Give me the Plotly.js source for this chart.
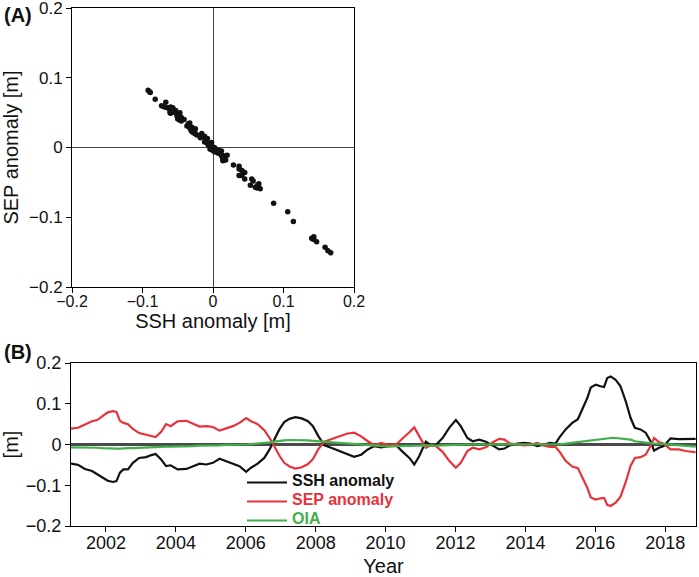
<!DOCTYPE html>
<html>
<head>
<meta charset="utf-8">
<script src="https://cdn.plot.ly/plotly-3.0.1.min.js"></script>
<style>html,body{margin:0;padding:0;background:#fff;}#chart{width:699px;height:577px;}</style>
</head>
<body>
<div id="chart"></div>
<script>
// Time axis (decimal years)
var years = [2001.00,2001.20,2001.40,2001.60,2001.75,2001.90,2002.05,2002.20,2002.30,2002.40,2002.50,2002.63,2002.77,2002.95,2003.15,2003.30,2003.42,2003.58,2003.72,2003.85,
2004.05,2004.30,2004.49,2004.68,2004.87,2005.06,2005.25,2005.44,2005.63,2005.82,2006.01,2006.15,2006.34,2006.53,2006.68,2006.82,2006.96,
2007.10,2007.25,2007.42,2007.60,2007.78,2007.92,2008.08,2008.25,2008.44,2008.68,2008.91,2009.10,2009.30,2009.49,2009.68,2009.87,
2010.10,2010.30,2010.49,2010.68,2010.82,2010.96,2011.15,2011.30,2011.44,2011.63,2011.82,2012.01,2012.15,2012.34,2012.49,2012.68,2012.87,
2013.08,2013.25,2013.40,2013.55,2013.77,2013.96,2014.15,2014.34,2014.53,2014.70,2014.86,2014.98,2015.15,2015.34,2015.50,2015.63,2015.77,2015.87,2016.01,
2016.15,2016.25,2016.34,2016.44,2016.58,2016.72,2016.87,2017.01,2017.13,2017.29,2017.44,2017.58,2017.68,2017.82,2017.96,2018.15,2018.39,2018.58,2018.87];

// SSH anomaly [m]
var sshAnomaly = [-0.047,-0.050,-0.060,-0.065,-0.073,-0.082,-0.089,-0.092,-0.090,-0.069,-0.061,-0.061,-0.045,-0.033,-0.031,-0.026,-0.023,-0.037,-0.053,-0.051,
-0.061,-0.060,-0.053,-0.047,-0.049,-0.045,-0.035,-0.041,-0.047,-0.053,-0.067,-0.057,-0.047,-0.033,-0.012,0.012,0.037,
0.055,0.063,0.067,0.064,0.057,0.045,0.020,-0.002,-0.008,-0.016,-0.025,-0.030,-0.025,-0.012,-0.004,-0.007,
-0.004,-0.002,-0.018,-0.033,-0.049,-0.029,0.007,-0.002,-0.001,0.016,0.041,0.060,0.045,0.016,0.008,0.012,0.007,
-0.004,-0.012,-0.010,-0.002,0.002,0.004,0.002,-0.004,0.000,0.004,0.002,0.018,0.037,0.053,0.062,0.086,0.114,0.140,0.147,
0.143,0.141,0.163,0.167,0.159,0.143,0.106,0.065,0.041,0.037,0.029,0.008,-0.015,-0.008,-0.004,0.015,0.013,0.014,0.014];

// SEP anomaly [m]
var sepAnomaly = [0.039,0.041,0.049,0.057,0.060,0.069,0.079,0.082,0.080,0.058,0.053,0.050,0.038,0.028,0.024,0.020,0.018,0.031,0.050,0.045,
0.057,0.058,0.050,0.044,0.045,0.043,0.034,0.040,0.045,0.053,0.065,0.057,0.050,0.035,0.016,-0.005,-0.027,
-0.045,-0.054,-0.059,-0.056,-0.048,-0.036,-0.011,0.007,0.013,0.020,0.027,0.029,0.020,0.008,-0.002,0.004,
-0.002,0.000,0.014,0.030,0.042,0.022,-0.008,-0.002,-0.004,-0.018,-0.040,-0.057,-0.045,-0.016,-0.008,-0.012,-0.007,
0.006,0.014,0.012,0.003,0.000,-0.002,-0.001,0.004,-0.003,-0.006,-0.006,-0.018,-0.040,-0.054,-0.058,-0.080,-0.106,-0.130,-0.135,
-0.132,-0.131,-0.148,-0.151,-0.143,-0.128,-0.092,-0.052,-0.033,-0.031,-0.025,-0.004,0.016,0.006,0.002,-0.012,-0.012,-0.016,-0.019];

// OIA [m]
var oia = [-0.007,-0.007,-0.008,-0.008,-0.008,-0.009,-0.010,-0.010,-0.010,-0.010,-0.009,-0.009,-0.009,-0.008,-0.008,-0.007,-0.006,-0.006,-0.005,-0.005,
-0.005,-0.004,-0.004,-0.003,-0.003,-0.002,-0.002,-0.001,-0.001,0.000,0.000,0.001,0.002,0.003,0.005,0.007,0.009,
0.010,0.011,0.011,0.010,0.010,0.009,0.008,0.006,0.004,0.003,0.002,0.000,-0.001,-0.002,-0.003,-0.004,
-0.005,-0.004,-0.004,-0.003,-0.003,-0.003,-0.002,-0.003,-0.003,-0.002,-0.001,-0.001,0.000,0.000,0.000,0.000,0.001,
0.001,0.001,0.001,0.001,0.001,0.001,0.001,0.000,0.000,0.000,0.000,0.001,0.002,0.004,0.006,0.007,0.009,0.011,0.012,
0.013,0.014,0.015,0.016,0.016,0.015,0.014,0.012,0.008,0.006,0.004,0.003,0.002,0.002,0.001,0.000,-0.002,-0.003,-0.005];

var seriesNames = ['SSH anomaly', 'SEP anomaly', 'OIA'];
var seriesColors = ['#111111', '#e8323a', '#41b04a'];
var yearTicks = [2002, 2004, 2006, 2008, 2010, 2012, 2014, 2016, 2018];

var FONT = 'Liberation Sans, Arial, Helvetica, sans-serif';
var W = 699, H = 577;

function legendName(i) {
  return '<b><span style="font-size:16px;color:' + seriesColors[i] + '">' + seriesNames[i] + '</span></b>';
}

var traces = [
  { type: 'scatter', mode: 'markers', x: sshAnomaly, y: sepAnomaly, xaxis: 'x', yaxis: 'y',
    marker: { color: '#111', size: 5.5 }, showlegend: false },
  { type: 'scatter', mode: 'lines', x: years, y: sshAnomaly, xaxis: 'x2', yaxis: 'y2',
    name: legendName(0), line: { color: seriesColors[0], width: 2.2 } },
  { type: 'scatter', mode: 'lines', x: years, y: sepAnomaly, xaxis: 'x2', yaxis: 'y2',
    name: legendName(1), line: { color: seriesColors[1], width: 2.2 } },
  { type: 'scatter', mode: 'lines', x: years, y: oia, xaxis: 'x2', yaxis: 'y2',
    name: legendName(2), line: { color: seriesColors[2], width: 2.2 } },
  // empty traces that only register the label-only companion axes
  { type: 'scatter', mode: 'markers', x: [], y: [], xaxis: 'x3', yaxis: 'y', showlegend: false, hoverinfo: 'skip' },
  { type: 'scatter', mode: 'markers', x: [], y: [], xaxis: 'x4', yaxis: 'y2', showlegend: false, hoverinfo: 'skip' }
];

function axisBase() {
  return {
    showline: true, mirror: true, linecolor: '#000', linewidth: 1,
    ticks: 'outside', ticklen: 5, tickcolor: '#000', tickwidth: 1,
    showgrid: false, automargin: false, ticklabeloverflow: 'allow',
    tickfont: { family: FONT, size: 17, color: '#111' }
  };
}
// label-only companion axis (no line, no tick marks) placed at a free position
function labelAxis(over, pos) {
  return {
    overlaying: over, anchor: 'free', position: pos,
    showline: false, ticks: '', showgrid: false, zeroline: false,
    automargin: false, ticklabeloverflow: 'allow', fixedrange: true
  };
}

var xA = Object.assign(axisBase(), {
  domain: [72 / W, 354 / W], anchor: 'y', range: [-0.2, 0.2], dtick: 0.1, tick0: 0,
  zeroline: true, zerolinecolor: '#444', zerolinewidth: 1, showticklabels: false
});
var xALabels = Object.assign(labelAxis('x', 1 - 290 / H), {
  domain: [72 / W, 354 / W], range: [-0.2, 0.2], dtick: 0.1, tick0: 0,
  tickfont: { family: FONT, size: 16, color: '#111' },
  title: { text: 'SSH anomaly [m]', font: { family: FONT, size: 20, color: '#111' }, standoff: 4 }
});
var yA = Object.assign(axisBase(), {
  domain: [1 - 287 / H, 1 - 8 / H], anchor: 'x', range: [-0.2, 0.2], dtick: 0.1, tick0: 0,
  zeroline: true, zerolinecolor: '#444', zerolinewidth: 1,
  title: { text: 'SEP anomaly [m]', font: { family: FONT, size: 20, color: '#111' }, standoff: 6 }
});
var xB = Object.assign(axisBase(), {
  domain: [71 / W, 696 / W], anchor: 'y2', range: [2001, 2018.88],
  tickmode: 'array', tickvals: yearTicks, zeroline: false, showticklabels: false
});
var xBLabels = Object.assign(labelAxis('x2', 1 - 529.5 / H), {
  domain: [71 / W, 696 / W], range: [2001, 2018.88],
  tickmode: 'array', tickvals: yearTicks, ticktext: yearTicks.map(String),
  tickfont: { family: FONT, size: 18, color: '#111' },
  title: { text: 'Year', font: { family: FONT, size: 20, color: '#111' }, standoff: 11 }
});
var yB = Object.assign(axisBase(), {
  domain: [1 - 526 / H, 1 - 363 / H], anchor: 'x2', range: [-0.2, 0.2], dtick: 0.1, tick0: 0,
  zeroline: true, zerolinecolor: '#4a4a4a', zerolinewidth: 2.5,
  tickfont: { family: FONT, size: 18, color: '#111' },
  title: { text: '[m]', font: { family: FONT, size: 20, color: '#111' }, standoff: 6 }
});

var layout = {
  width: W, height: H,
  margin: { l: 0, r: 0, t: 0, b: 0 },
  paper_bgcolor: '#fff', plot_bgcolor: '#fff',
  font: { family: FONT, color: '#111' },
  xaxis: xA, yaxis: yA, xaxis2: xB, yaxis2: yB, xaxis3: xALabels, xaxis4: xBLabels,
  showlegend: true,
  legend: {
    x: 242 / W, y: 1 - 468 / H, xanchor: 'left', yanchor: 'top',
    bgcolor: 'rgba(0,0,0,0)', borderwidth: 0,
    font: { family: FONT, size: 10 }, itemwidth: 40, tracegroupgap: 0
  },
  annotations: [
    { text: '<b>(A)</b>', xref: 'paper', yref: 'paper', x: 2 / W, y: 1 - 15 / H,
      xanchor: 'left', yanchor: 'middle', showarrow: false, font: { family: FONT, size: 20, color: '#111' } },
    { text: '<b>(B)</b>', xref: 'paper', yref: 'paper', x: 2 / W, y: 1 - 352 / H,
      xanchor: 'left', yanchor: 'middle', showarrow: false, font: { family: FONT, size: 20, color: '#111' } }
  ]
};

Plotly.newPlot('chart', traces, layout, { displayModeBar: false, staticPlot: true });
</script>
</body>
</html>
